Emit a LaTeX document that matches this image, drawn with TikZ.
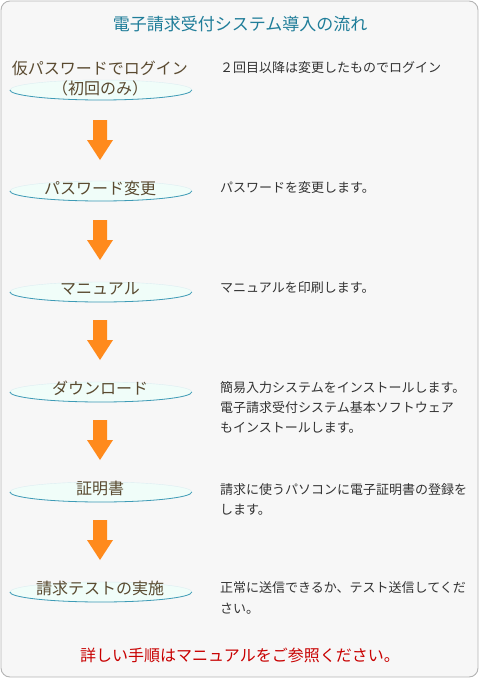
\documentclass[tikz,border=0pt]{standalone}
\usepackage{fontspec}
\setmainfont{Noto Sans CJK JP}
\usetikzlibrary{shapes.geometric}
\definecolor{framebg}{HTML}{F7F7F7}
\definecolor{frameline}{HTML}{B4B4B4}
\definecolor{titlec}{HTML}{1F7D99}
\definecolor{stepc}{HTML}{5A4A30}
\definecolor{descc}{HTML}{333333}
\definecolor{notec}{HTML}{C80000}
\definecolor{arrowc}{HTML}{FF8A1C}
\definecolor{ellfill}{HTML}{F0FDF9}
\definecolor{ellline}{HTML}{3E9BB6}
\begin{document}
\begin{tikzpicture}[x=1pt,y=-1pt,
  titlestyle/.style={anchor=base,inner sep=0pt,text=titlec,font=\fontsize{17pt}{20pt}\selectfont},
  steptext/.style={anchor=base,inner sep=0pt,text=stepc,font=\fontsize{16pt}{19pt}\selectfont},
  desc/.style={anchor=base west,inner sep=0pt,text=descc,font=\fontsize{13pt}{16pt}\selectfont},
  notestyle/.style={anchor=base,inner sep=0pt,text=notec,font=\fontsize{16pt}{19pt}\selectfont},
  ellip/.style={ellipse,inner sep=0pt,minimum width=182pt,minimum height=20pt,fill=ellfill,draw=ellline!18},
  downarrow/.pic={\fill[arrowc] (-7,0) -- (7,0) -- (7,20) -- (13,20) -- (0,40) -- (-13,20) -- (-7,20) -- cycle;}
]
\useasboundingbox (0,0) rectangle (480,680);
\draw[frameline,fill=framebg,rounded corners=9pt,line width=0.9pt] (1,1) rectangle (478,677);

\node[titlestyle] (title) at (240,30.5) {電子請求受付システム導入の流れ};

% ellipses
\foreach \i/\y in {1/90,2/191,3/292,4/392,5/492,6/592}{
  \node[ellip] (e\i) at (101,\y) {};
  \draw[ellline,line width=0.8pt] (e\i.west) arc[start angle=180,end angle=360,x radius=91pt,y radius=10pt];
}

% step texts
\node[steptext] (s1a) at (100,74.5) {仮パスワードでログイン};
\node[steptext] (s1b) at (100,94) {（初回のみ）};
\node[steptext] (s2) at (100,194.5) {パスワード変更};
\node[steptext] (s3) at (100,294) {マニュアル};
\node[steptext] (s4) at (100,394) {ダウンロード};
\node[steptext] (s5) at (100,494) {証明書};
\node[steptext] (s6) at (100,594) {請求テストの実施};

% arrows
\foreach \y in {120,220,320,420,520}{
  \pic at (100,\y) {downarrow};
}

% descriptions
\node[desc] (d1) at (220,72) {２回目以降は変更したものでログイン};
\node[desc] (d2) at (220,192.5) {パスワードを変更します。};
\node[desc] (d3) at (220,292) {マニュアルを印刷します。};
\node[desc] (d4a) at (220,392.5) {簡易入力システムをインストールします。};
\node[desc] (d4b) at (220,412.5) {電子請求受付システム基本ソフトウェア};
\node[desc] (d4c) at (220,432.5) {もインストールします。};
\node[desc] (d5a) at (220,494) {請求に使うパソコンに電子証明書の登録を};
\node[desc] (d5b) at (220,514) {します。};
\node[desc] (d6a) at (220,592) {正常に送信できるか、テスト送信してくだ};
\node[desc] (d6b) at (220,613) {さい。};

\node[notestyle] (note) at (240,661) {詳しい手順はマニュアルをご参照ください。};
\end{tikzpicture}
\end{document}
